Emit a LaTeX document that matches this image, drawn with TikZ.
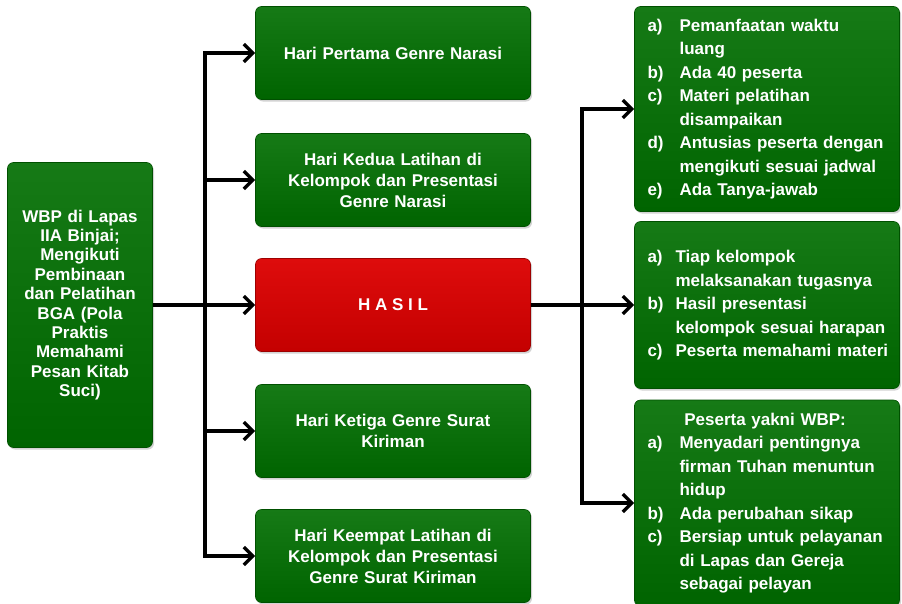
\documentclass[tikz,border=0pt]{standalone}
\usepackage{fontspec}
\setmainfont{Liberation Sans}
\usetikzlibrary{arrows.meta,shadows}

\definecolor{greentop}{RGB}{22,122,22}
\definecolor{greenbot}{RGB}{0,100,0}
\definecolor{redtop}{RGB}{222,12,12}
\definecolor{redbot}{RGB}{196,0,0}

\tikzset{
  panel/.style={rounded corners=6pt, inner sep=0pt, text=white,
    drop shadow={shadow xshift=1.5pt, shadow yshift=-2pt, opacity=0.35}},
  greenbox/.style={panel, top color=greentop, bottom color=greenbot,
    draw=greenbot!80!black, line width=0.6pt},
  redbox/.style={panel, top color=redtop, bottom color=redbot,
    draw=redbot!80!black, line width=0.6pt},
  flow/.style={line width=3.4pt, -{Straight Barb[length=9pt,width=18pt]}},
}

\begin{document}
\begin{tikzpicture}[x=1pt,y=-1pt]
\useasboundingbox (0,0) rectangle (902,603);

% Start box
\node[greenbox, minimum width=145pt, minimum height=285pt, text width=135pt,
  align=center, font=\bfseries\fontsize{17}{19.4}\selectfont] (wbp) at (80,305)
  {WBP di Lapas\\IIA Binjai;\\Mengikuti\\Pembinaan\\dan Pelatihan\\BGA (Pola\\Praktis\\Memahami\\Pesan Kitab\\Suci)};

% Day boxes
\tikzset{daybox/.style={greenbox, minimum width=275pt, minimum height=93pt,
  text width=260pt, align=center, font=\bfseries\fontsize{17}{21}\selectfont}}
\node[daybox] (hari1) at (393,53) {Hari Pertama Genre Narasi};
\node[daybox] (hari2) at (393,180) {Hari Kedua Latihan di\\Kelompok dan Presentasi\\Genre Narasi};
\node[daybox] (hari4) at (393,431) {Hari Ketiga Genre Surat\\Kiriman};
\node[daybox] (hari5) at (393,556) {Hari Keempat Latihan di\\Kelompok dan Presentasi\\Genre Surat Kiriman};

% Result box
\node[redbox, minimum width=275pt, minimum height=93pt,
  font=\bfseries\fontsize{17}{21}\selectfont] (hasil) at (393,305) {H A S I L};

% Outcome boxes
\tikzset{outbox/.style={greenbox, minimum width=265pt, text width=239pt,
  align=left, font=\bfseries\fontsize{17}{23.5}\selectfont}}
\node[outbox, minimum height=205pt] (out1) at (767,109) {%
  \begin{tabular}{@{}l@{\hspace{16pt}}l@{}}
  a) & Pemanfaatan waktu\\
     & luang\\
  b) & Ada 40 peserta\\
  c) & Materi pelatihan\\
     & disampaikan\\
  d) & Antusias peserta dengan\\
     & mengikuti sesuai jadwal\\
  e) & Ada Tanya-jawab
  \end{tabular}};
\node[outbox, minimum height=167pt] (out2) at (767,305) {%
  \begin{tabular}{@{}l@{\hspace{12pt}}l@{}}
  a) & Tiap kelompok\\
     & melaksanakan tugasnya\\
  b) & Hasil presentasi\\
     & kelompok sesuai harapan\\
  c) & Peserta memahami materi
  \end{tabular}};
\node[outbox, minimum height=206pt] (out3) at (767,503) {%
  \begin{tabular}{@{}l@{\hspace{16pt}}l@{}}
  \multicolumn{2}{@{}c@{}}{Peserta yakni WBP:}\\
  a) & Menyadari pentingnya\\
     & firman Tuhan menuntun\\
     & hidup\\
  b) & Ada perubahan sikap\\
  c) & Bersiap untuk pelayanan\\
     & di Lapas dan Gereja\\
     & sebagai pelayan
  \end{tabular}};

% Connectors
\coordinate (lbus) at (205,305);
\coordinate (rbus) at (582,305);
\draw[flow] (wbp.east) -- (hasil.west);
\foreach \n in {hari1,hari2,hari4,hari5}
  \draw[flow] (lbus) |- (\n.west);
\draw[flow] (hasil.east) -- (out2.west);
\draw[flow] (rbus) |- (out1.west);
\draw[flow] (rbus) |- (out3.west);

\end{tikzpicture}
\end{document}
